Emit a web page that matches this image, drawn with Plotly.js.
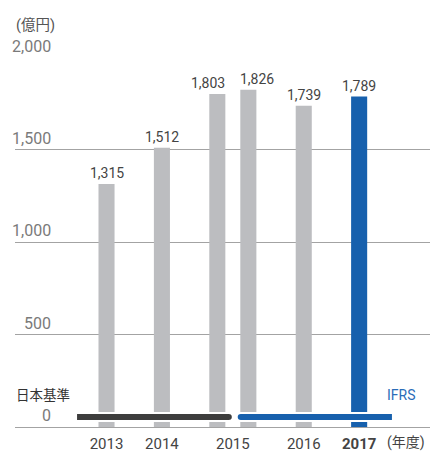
<!DOCTYPE html>
<html>
<head>
<meta charset="utf-8">
<script src="https://cdn.plot.ly/plotly-3.0.1.min.js"></script>
<style>
  html, body { margin: 0; padding: 0; background: #ffffff; }
  #chart { width: 430px; height: 452px; }
</style>
</head>
<body>
<div id="chart"></div>
<script>
// Fiscal years (2015 appears twice: reported under both standards)
const years = ['2013', '2014', '2015', '2015', '2016', '2017'];
const standards = ['日本基準', '日本基準', '日本基準', 'IFRS', 'IFRS', 'IFRS'];
const values = [1315, 1512, 1803, 1826, 1739, 1789];   // 億円
const yTicks = [0, 500, 1000, 1500, 2000];
const unitLabel = '(億円)';
const yearLabel = '(年度)';

const FONT = 'Roboto, "Noto Sans CJK JP", sans-serif';
const GRAY_BAR = '#bcbdc0';
const BLUE = '#1760ad';
const DARK = '#3d3d3d';
const GRID = '#a3a3a3';
const BAR_W = 0.29;

// slot positions: one unit per year, a narrow step between the two 2015 bars
const pos = [];
years.forEach((y, i) => {
  if (i === 0) pos.push(0);
  else pos.push(pos[i - 1] + (y === years[i - 1] ? 0.56 : 1));
});

// one tick per year, centred under its bar(s)
const tickYears = [...new Set(years)];
const tickPos = tickYears.map(y => {
  const p = pos.filter((_, i) => years[i] === y);
  return p.reduce((a, b) => a + b, 0) / p.length;
});
const lastYear = tickYears[tickYears.length - 1];
const tickText = tickYears.map(y => y === lastYear ? '<b>' + y + '</b>' : y);

// the latest year is highlighted
const colors = years.map(y => y === lastYear ? BLUE : GRAY_BAR);

const trace = {
  type: 'bar',
  x: pos,
  y: values,
  width: BAR_W,
  marker: { color: colors, line: { width: 0 } },
  hoverinfo: 'skip'
};

// accounting-standard timeline along the base of the chart
const jIdx = standards.map((s, i) => s === '日本基準' ? i : -1).filter(i => i >= 0);
const iIdx = standards.map((s, i) => s === 'IFRS' ? i : -1).filter(i => i >= 0);
const split = (pos[jIdx[jIdx.length - 1]] + pos[iIdx[0]]) / 2;
const tlStart = pos[0] - 0.55;
const tlEnd = pos[pos.length - 1] + 0.61;
const gap = 0.07;
const rx = 0.075;          // rounded end, in x units
const yc = 0.027, hh = 0.0108;  // timeline centre / half thickness (paper)
const yb = yc - hh, yt = yc + hh, ym = yc;

const jEnd = split;
const darkPath = `M${tlStart},${yb} L${jEnd - rx},${yb} Q${jEnd},${yb} ${jEnd},${ym} Q${jEnd},${yt} ${jEnd - rx},${yt} L${tlStart},${yt} Z`;
const iStart = split + gap;
const bluePath = `M${iStart + rx},${yb} Q${iStart},${yb} ${iStart},${ym} Q${iStart},${yt} ${iStart + rx},${yt} L${tlEnd},${yt} L${tlEnd},${yb} Z`;

const shapes = [
  { type: 'path', xref: 'x', yref: 'paper', path: darkPath, fillcolor: DARK,
    line: { color: '#ffffff', width: 2 }, layer: 'above' },
  { type: 'path', xref: 'x', yref: 'paper', path: bluePath, fillcolor: BLUE,
    line: { color: '#ffffff', width: 2 }, layer: 'above' }
];

// value labels above each bar; the two 2015 bars push their labels apart
const annotations = values.map((v, i) => {
  const firstOfPair = i + 1 < years.length && years[i + 1] === years[i];
  const secondOfPair = i > 0 && years[i - 1] === years[i];
  let x = pos[i], xanchor = 'center', xshift = 0;
  if (firstOfPair) { x = pos[i] + BAR_W / 2; xanchor = 'right'; xshift = 2; }
  if (secondOfPair) { x = pos[i] - BAR_W / 2; xanchor = 'left'; xshift = -2; }
  return {
    xref: 'x', yref: 'y', x: x, y: v, xanchor: xanchor, yanchor: 'bottom',
    xshift: xshift, yshift: 1, showarrow: false,
    text: v.toLocaleString('en-US'),
    font: { family: FONT, size: 14, color: '#444444' }
  };
});

// value-axis labels sit above their gridlines, right-aligned
yTicks.forEach(v => annotations.push({
  xref: 'paper', yref: 'y', x: 0.0916, y: v,
  xanchor: 'right', yanchor: 'bottom', showarrow: false,
  text: v.toLocaleString('en-US'),
  font: { family: FONT, size: 16, color: '#7a7a7a' }
}));

annotations.push(
  { xref: 'paper', yref: 'paper', x: 0, y: 1.086, xanchor: 'left', yanchor: 'middle',
    xshift: -1, showarrow: false, text: unitLabel,
    font: { family: FONT, size: 14.5, color: '#555555' } },
  { xref: 'paper', yref: 'paper', x: 0, y: 0.0878, xanchor: 'left', yanchor: 'middle',
    xshift: -1, showarrow: false, text: '日本基準',
    font: { family: FONT, size: 13.5, color: '#333333' } },
  { xref: 'paper', yref: 'paper', x: 0.8916, y: 0.0878, xanchor: 'left', yanchor: 'middle',
    showarrow: false, text: 'IFRS',
    font: { family: FONT, size: 14, color: '#2a6cb8' } },
  { xref: 'paper', yref: 'paper', x: 0.8916, y: -0.043, xanchor: 'left', yanchor: 'middle',
    showarrow: false, text: yearLabel,
    font: { family: FONT, size: 14, color: '#444444' } }
);

const layout = {
  width: 430,
  height: 452,
  margin: { l: 15, r: 0, t: 57, b: 25, pad: 0 },
  paper_bgcolor: '#ffffff',
  plot_bgcolor: '#ffffff',
  showlegend: false,
  font: { family: FONT },
  xaxis: {
    range: [-1.652, 5.839],
    tickvals: tickPos,
    ticktext: tickText,
    ticks: '',
    ticklabelstandoff: 3,
    showgrid: false,
    zeroline: false,
    showline: true,
    linecolor: GRID,
    linewidth: 1,
    tickfont: { family: FONT, size: 15, color: '#444444' },
    fixedrange: true
  },
  yaxis: {
    range: [0, 2003],
    tickvals: yTicks,
    showticklabels: false,
    ticks: '',
    showgrid: true,
    gridcolor: GRID,
    gridwidth: 1,
    zeroline: false,
    showline: false,
    fixedrange: true
  },
  shapes: shapes,
  annotations: annotations
};

Plotly.newPlot('chart', [trace], layout, { displayModeBar: false, staticPlot: true });
</script>
</body>
</html>
